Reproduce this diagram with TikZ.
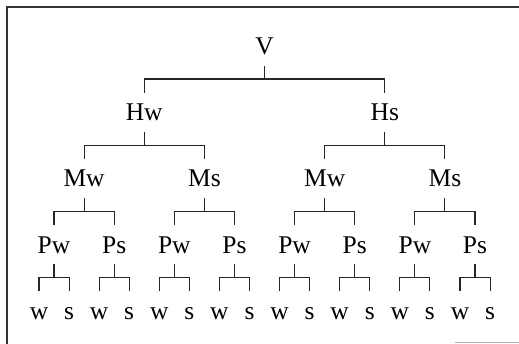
\documentclass[tikz,border=0pt]{standalone}
\usepackage{fontspec}
\setmainfont{Liberation Serif}
\usepackage{tikz}

\begin{document}
\begin{tikzpicture}[x=1pt,y=-1pt]
	\tikzstyle{every node} = [inner xsep=1pt, inner ysep=11pt, text height=17pt, text depth=0pt, font=\fontsize{25.5}{30}\selectfont]
	\tikzstyle{brak} = [draw, line width=1.1pt, black!85]
\useasboundingbox (0,0) rectangle (519,344);
	% frame
	\path[draw, line width=2.4pt, black!80] (7,344) -- (7,7) -- (519,7);
	\path[draw, line width=1pt, black!30] (455,342) -- (519,342);

\node (1) at (264.5, 46) {V};
\node (2) at (144.2, 112.3) {Hw};
\node (3) at (384.8, 112.3) {Hs};
\node (4) at (84.1, 178.5) {Mw};
\node (5) at (204.4, 178.5) {Ms};
\node (6) at (324.7, 178.5) {Mw};
\node (7) at (444.9, 178.5) {Ms};
\node (8) at (54.0, 244.8) {Pw};
\node (9) at (114.2, 244.8) {Ps};
\node (10) at (174.3, 244.8) {Pw};
\node (11) at (234.5, 244.8) {Ps};
\node (12) at (294.6, 244.8) {Pw};
\node (13) at (354.7, 244.8) {Ps};
\node (14) at (414.9, 244.8) {Pw};
\node (15) at (475.0, 244.8) {Ps};
\node (16) at (39.0, 311) {w};
\node (17) at (69.1, 311) {s};
\node (18) at (99.1, 311) {w};
\node (19) at (129.2, 311) {s};
\node (20) at (159.3, 311) {w};
\node (21) at (189.4, 311) {s};
\node (22) at (219.4, 311) {w};
\node (23) at (249.5, 311) {s};
\node (24) at (279.6, 311) {w};
\node (25) at (309.6, 311) {s};
\node (26) at (339.7, 311) {w};
\node (27) at (369.8, 311) {s};
\node (28) at (399.8, 311) {w};
\node (29) at (429.9, 311) {s};
\node (30) at (460.0, 311) {w};
\node (31) at (490.1, 311) {s};

	% V
	\path[brak] (1.south) -- ++(0,13.6);
	\path[brak] (2.north) -- ++(0,-13.6) -| (3.north);
	% H
	\path[brak] (2.south) -- ++(0,13.6);
	\path[brak] (4.north) -- ++(0,-13.6) -| (5.north);
	\path[brak] (3.south) -- ++(0,13.6);
	\path[brak] (6.north) -- ++(0,-13.6) -| (7.north);
	% M
	\path[brak] (4.south) -- ++(0,13.6);
	\path[brak] (8.north) -- ++(0,-13.6) -| (9.north);
	\path[brak] (5.south) -- ++(0,13.6);
	\path[brak] (10.north) -- ++(0,-13.6) -| (11.north);
	\path[brak] (6.south) -- ++(0,13.6);
	\path[brak] (12.north) -- ++(0,-13.6) -| (13.north);
	\path[brak] (7.south) -- ++(0,13.6);
	\path[brak] (14.north) -- ++(0,-13.6) -| (15.north);
	% P
	\path[brak] (8.south) -- ++(0,13.6);
	\path[brak] (16.north) -- ++(0,-13.6) -| (17.north);
	\path[brak] (9.south) -- ++(0,13.6);
	\path[brak] (18.north) -- ++(0,-13.6) -| (19.north);
	\path[brak] (10.south) -- ++(0,13.6);
	\path[brak] (20.north) -- ++(0,-13.6) -| (21.north);
	\path[brak] (11.south) -- ++(0,13.6);
	\path[brak] (22.north) -- ++(0,-13.6) -| (23.north);
	\path[brak] (12.south) -- ++(0,13.6);
	\path[brak] (24.north) -- ++(0,-13.6) -| (25.north);
	\path[brak] (13.south) -- ++(0,13.6);
	\path[brak] (26.north) -- ++(0,-13.6) -| (27.north);
	\path[brak] (14.south) -- ++(0,13.6);
	\path[brak] (28.north) -- ++(0,-13.6) -| (29.north);
	\path[brak] (15.south) -- ++(0,13.6);
	\path[brak] (30.north) -- ++(0,-13.6) -| (31.north);
\end{tikzpicture}
\end{document}
